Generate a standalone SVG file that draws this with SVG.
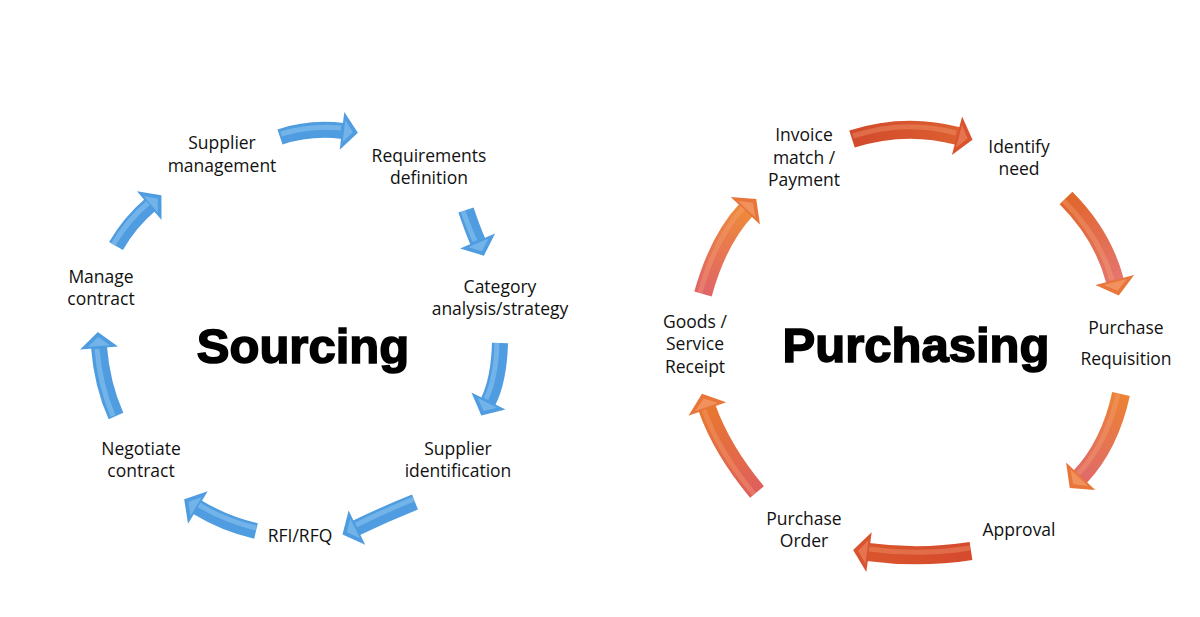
<svg xmlns="http://www.w3.org/2000/svg" width="1200" height="617" viewBox="0 0 1200 617">
<style>
.lbl{font-family:"Open Sans","Liberation Sans",sans-serif;font-size:17.5px;fill:#111;text-anchor:middle}
.title{font-family:"Liberation Sans",Arial,sans-serif;font-weight:bold;font-size:49px;fill:#000;stroke:#000;stroke-width:1.6;text-anchor:middle}
.bo{fill:none;stroke:#4f9de0;stroke-width:16;marker-end:url(#hb)}
.bi{fill:none;stroke:#95cbf4;stroke-width:5;opacity:.5}
.oo{fill:none;stroke-width:18}
.oi{fill:none;stroke:#f6a77a;stroke-width:5;opacity:.35}
</style>
<defs>
<marker id="hb" markerUnits="userSpaceOnUse" viewBox="-2 -21 20 42" refX="0" refY="0" markerWidth="20" markerHeight="42" orient="auto" overflow="visible">
<path d="M-1,-19 L15,0 L-1,19 Z" fill="#4f9de0"/>
<path d="M1,-11 L10,0 L1,11 Z" fill="#95cbf4" opacity=".5"/>
</marker>
<marker id="ho" markerUnits="userSpaceOnUse" viewBox="-2 -22 20 44" refX="0" refY="0" markerWidth="20" markerHeight="44" orient="auto" overflow="visible">
<path d="M-1,-20 L15,0 L-1,20 Z" fill="#e8763a"/>
<path d="M1,-12 L10,0 L1,12 Z" fill="#f7a577" opacity=".6"/>
</marker>
<marker id="hr" markerUnits="userSpaceOnUse" viewBox="-2 -22 20 44" refX="0" refY="0" markerWidth="20" markerHeight="44" orient="auto" overflow="visible">
<path d="M-1,-20 L15,0 L-1,20 Z" fill="#d9532e"/>
<path d="M1,-12 L10,0 L1,12 Z" fill="#ec8a66" opacity=".6"/>
</marker>
<linearGradient id="g1" gradientUnits="userSpaceOnUse" x1="852" y1="139" x2="958" y2="136"><stop offset="0" stop-color="#d24a2c"/><stop offset="1" stop-color="#dc5f30"/></linearGradient>
<linearGradient id="g2" gradientUnits="userSpaceOnUse" x1="1066" y1="198" x2="1115" y2="281"><stop offset="0" stop-color="#e0662a"/><stop offset="1" stop-color="#e5756e"/></linearGradient>
<linearGradient id="g3" gradientUnits="userSpaceOnUse" x1="1121" y1="394" x2="1080" y2="477"><stop offset="0" stop-color="#ec8233"/><stop offset="1" stop-color="#e06a6a"/></linearGradient>
<linearGradient id="g4" gradientUnits="userSpaceOnUse" x1="971" y1="551" x2="868" y2="552"><stop offset="0" stop-color="#d64a2e"/><stop offset="1" stop-color="#d9552c"/></linearGradient>
<linearGradient id="g5" gradientUnits="userSpaceOnUse" x1="757" y1="492" x2="707" y2="408"><stop offset="0" stop-color="#df5f5c"/><stop offset="1" stop-color="#e8772f"/></linearGradient>
<linearGradient id="g6" gradientUnits="userSpaceOnUse" x1="703" y1="294" x2="746" y2="210"><stop offset="0" stop-color="#e06468"/><stop offset="1" stop-color="#ee8a3a"/></linearGradient>
</defs>
<rect width="1200" height="617" fill="#fff"/>
<g id="connectors">
<path class="bo" d="M280,137 Q310,127 343,131"/>
<path class="bi" d="M281,134 Q310,125 341,128"/>
<path class="bo" d="M466,210 Q472,228 478,242"/>
<path class="bi" d="M463,211 Q469,228 475,241"/>
<path class="bo" d="M500,343 Q499,380 488,402"/>
<path class="bi" d="M497,343 Q496,378 486,399"/>
<path class="bo" d="M415,502 Q385,514 356,528"/>
<path class="bi" d="M414,499 Q384,511 356,525"/>
<path class="bo" d="M256,531 Q225,524 197,507"/>
<path class="bi" d="M256,528 Q226,521 199,505"/>
<path class="bo" d="M116,416 Q102,385 99,347"/>
<path class="bi" d="M113,416 Q100,385 97,349"/>
<path class="bo" d="M116,246 Q130,222 150,205"/>
<path class="bi" d="M113,245 Q127,221 148,203"/>
<path class="oo" stroke="url(#g1)" marker-end="url(#hr)" d="M852,139 Q905,122 958,136"/>
<path class="oi" d="M853,136 Q905,119 956,133"/>
<path class="oo" stroke="url(#g2)" marker-end="url(#ho)" d="M1066,198 Q1103,235 1115,281"/>
<path class="oi" d="M1063,200 Q1100,237 1112,280"/>
<path class="oo" stroke="url(#g3)" marker-end="url(#ho)" d="M1121,394 Q1110,445 1080,477"/>
<path class="oi" d="M1118,394 Q1107,443 1078,474"/>
<path class="oo" stroke="url(#g4)" marker-end="url(#hr)" d="M971,551 Q920,559 868,552"/>
<path class="oi" d="M970,548 Q920,556 869,549"/>
<path class="oo" stroke="url(#g5)" marker-end="url(#ho)" d="M757,492 Q722,450 707,408"/>
<path class="oi" d="M754,494 Q719,452 704,410"/>
<path class="oo" stroke="url(#g6)" marker-end="url(#ho)" d="M703,294 Q718,240 746,210"/>
<path class="oi" d="M700,293 Q715,239 743,208"/>
</g>
<g id="sourcing-title"><text class="title" x="303" y="363">Sourcing</text></g>
<g id="purchasing-title"><text class="title" x="916" y="362">Purchasing</text></g>
<g id="supplier-management"><text class="lbl" x="222" y="149">Supplier</text><text class="lbl" x="222" y="172">management</text></g>
<g id="requirements-definition"><text class="lbl" x="429" y="162">Requirements</text><text class="lbl" x="429" y="184">definition</text></g>
<g id="category-analysis"><text class="lbl" x="500" y="293">Category</text><text class="lbl" x="500" y="315">analysis/strategy</text></g>
<g id="supplier-identification"><text class="lbl" x="458" y="455">Supplier</text><text class="lbl" x="458" y="477">identification</text></g>
<g id="rfi-rfq"><text class="lbl" x="300" y="542">RFI/RFQ</text></g>
<g id="negotiate-contract"><text class="lbl" x="141" y="455">Negotiate</text><text class="lbl" x="141" y="477">contract</text></g>
<g id="manage-contract"><text class="lbl" x="101" y="283">Manage</text><text class="lbl" x="101" y="305">contract</text></g>
<g id="invoice-payment"><text class="lbl" x="804" y="141">Invoice</text><text class="lbl" x="804" y="164">match /</text><text class="lbl" x="804" y="186">Payment</text></g>
<g id="identify-need"><text class="lbl" x="1019" y="153">Identify</text><text class="lbl" x="1019" y="175">need</text></g>
<g id="purchase-requisition"><text class="lbl" x="1126" y="334">Purchase</text><text class="lbl" x="1126" y="365">Requisition</text></g>
<g id="approval"><text class="lbl" x="1019" y="536">Approval</text></g>
<g id="purchase-order"><text class="lbl" x="804" y="525">Purchase</text><text class="lbl" x="804" y="547">Order</text></g>
<g id="goods-receipt"><text class="lbl" x="695" y="328">Goods /</text><text class="lbl" x="695" y="350">Service</text><text class="lbl" x="695" y="373">Receipt</text></g>
</svg>
